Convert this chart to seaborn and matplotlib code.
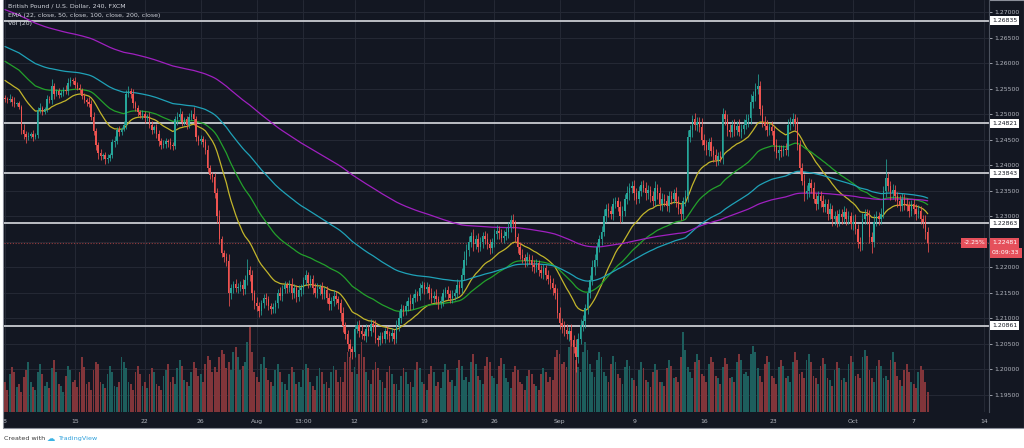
import numpy as np
import pandas as pd
import matplotlib
matplotlib.use("Agg")
import matplotlib.pyplot as plt
import seaborn as sns
from matplotlib.patches import Rectangle
from matplotlib.transforms import blended_transform_factory

# ---------------- data (prices in pips above 1.2000) ----------------
first_open_pips = 532
close_pips = [
    530, 528, 531, 524, 520, 522, 515, 470, 462, 455,
    458, 462, 455, 460, 508, 512, 505, 510, 530, 528,
    555, 540, 545, 538, 542, 548, 545, 562, 568, 565,
    558, 552, 548, 535, 528, 525, 520, 495, 468, 440,
    425, 418, 420, 412, 415, 420, 445, 448, 470, 465,
    472, 480, 540, 545, 540, 522, 512, 505, 498, 500,
    492, 495, 480, 470, 475, 462, 448, 440, 442, 448,
    445, 440, 438, 490, 495, 500, 485, 490, 480, 495,
    500, 490, 455, 448, 452, 445, 430, 395, 382, 378,
    345, 300, 255, 228, 220, 212, 150, 160, 168, 160,
    162, 165, 158, 175, 195, 185, 150, 130, 125, 115,
    130, 140, 138, 125, 118, 122, 130, 150, 145, 158,
    165, 160, 168, 150, 160, 142, 155, 160, 175, 185,
    170, 178, 160, 150, 158, 162, 148, 155, 140, 128,
    135, 145, 138, 130, 110, 85, 70, 50, 40, 35,
    80, 88, 75, 70, 65, 80, 75, 90, 85, 62,
    58, 65, 60, 75, 70, 65, 72, 60, 85, 100,
    118, 115, 125, 135, 128, 140, 148, 145, 160, 165,
    158, 162, 150, 140, 145, 138, 130, 135, 150, 155,
    148, 140, 145, 150, 165, 160, 185, 215, 235, 250,
    262, 245, 255, 240, 250, 262, 255, 245, 238, 250,
    265, 272, 268, 258, 262, 270, 280, 292, 285, 260,
    240, 225, 218, 212, 220, 215, 205, 200, 208, 195,
    190, 198, 185, 178, 170, 160, 150, 110, 92, 85,
    78, 70, 75, 58, 45, 25, 60, 88, 95, 120,
    150, 175, 200, 215, 240, 255, 270, 300, 315, 310,
    305, 325, 330, 318, 300, 310, 335, 345, 355, 360,
    345, 335, 350, 362, 355, 345, 352, 340, 330, 355,
    345, 325, 335, 330, 320, 340, 335, 345, 330, 315,
    305, 330, 340, 455, 470, 490, 480, 485, 475, 450,
    440, 430, 445, 428, 420, 410, 418, 415, 500, 490,
    470, 465, 480, 470, 478, 465, 472, 480, 488, 492,
    525, 535, 550, 555, 510, 485, 478, 470, 475, 468,
    440, 425, 430, 428, 432, 430, 480, 485, 490, 482,
    440, 395, 370, 345, 350, 365, 355, 335, 325, 340,
    330, 318, 325, 305, 315, 295, 300, 290, 305, 298,
    308, 295, 300, 285, 290, 275, 250, 245, 295, 305,
    300, 260, 250, 290, 300, 295, 305, 350, 375, 360,
    345, 352, 340, 330, 320, 335, 325, 320, 310, 325,
    315, 305, 310, 295, 290, 270, 248,
]
upper_wick_pips = [
    6, 4, 8, 5, 10, 3, 5, 4, 12, 6,
    8, 4, 7, 3, 6, 10, 5, 4, 8, 5,
    15, 6, 4, 7, 5, 6, 9, 10, 6, 4,
    8, 5, 7, 4, 6, 5, 9, 8, 10, 6,
    5, 7, 4, 6, 8, 5, 6, 9, 5, 7,
    4, 6, 8, 10, 6, 9, 5, 7, 4, 8,
    6, 5, 10, 7, 4, 6, 8, 5, 7, 6,
    4, 9, 5, 6, 10, 12, 7, 5, 6, 8,
    9, 14, 6, 5, 8, 6, 7, 9, 5, 6,
    8, 10, 12, 7, 6, 9, 14, 8, 6, 10,
    7, 9, 12, 10, 22, 8, 9, 6, 12, 7,
    6, 8, 10, 7, 5, 9, 6, 8, 11, 7,
    9, 6, 8, 12, 7, 6, 10, 8, 7, 9,
    6, 8, 7, 9, 12, 6, 10, 7, 8, 9,
    7, 10, 8, 6, 9, 12, 8, 7, 10, 6,
    8, 7, 9, 12, 6, 10, 8, 9, 7, 12,
    6, 9, 8, 7, 10, 6, 9, 8, 12, 14,
    10, 8, 9, 7, 12, 8, 10, 6, 9, 8,
    7, 9, 6, 10, 8, 12, 7, 9, 8, 6,
    9, 7, 10, 8, 12, 9, 14, 18, 10, 12,
    8, 14, 9, 12, 10, 7, 9, 12, 10, 8,
    10, 12, 9, 8, 11, 9, 10, 10, 12, 8,
    7, 9, 12, 8, 10, 7, 9, 10, 8, 6,
    9, 8, 7, 10, 8, 9, 7, 10, 12, 8,
    10, 12, 9, 14, 10, 15, 12, 10, 12, 9,
    12, 10, 14, 12, 10, 9, 12, 14, 10, 12,
    10, 12, 9, 8, 12, 10, 9, 14, 10, 9,
    12, 10, 9, 8, 10, 12, 9, 8, 10, 14,
    9, 12, 10, 8, 12, 10, 9, 8, 12, 10,
    10, 9, 12, 14, 10, 8, 12, 10, 9, 18,
    12, 10, 9, 11, 10, 12, 8, 10, 12, 9,
    10, 12, 9, 10, 8, 12, 9, 10, 12, 8,
    14, 10, 12, 25, 10, 9, 12, 10, 8, 12,
    10, 12, 9, 10, 8, 12, 10, 9, 12, 10,
    12, 9, 10, 14, 12, 10, 8, 12, 10, 9,
    10, 12, 9, 10, 12, 8, 10, 12, 9, 10,
    12, 9, 10, 8, 12, 14, 10, 9, 12, 10,
    10, 12, 9, 14, 10, 8, 12, 10, 38, 10,
    9, 12, 10, 8, 12, 10, 9, 12, 10, 8,
    10, 9, 12, 10, 8, 12, 10,
]
lower_wick_pips = [
    5, 6, 4, 8, 6, 3, 4, 8, 10, 12,
    6, 5, 8, 4, 6, 5, 7, 4, 6, 5,
    8, 10, 5, 6, 4, 7, 5, 8, 6, 5,
    6, 4, 7, 5, 6, 8, 5, 7, 9, 10,
    12, 8, 6, 10, 7, 6, 5, 8, 6, 7,
    6, 5, 8, 6, 7, 9, 6, 8, 5, 7,
    8, 6, 7, 9, 6, 8, 10, 7, 6, 8,
    9, 7, 8, 6, 10, 7, 8, 6, 9, 7,
    6, 8, 7, 9, 6, 8, 7, 8, 9, 10,
    9, 12, 10, 8, 9, 10, 25, 12, 10, 9,
    10, 8, 12, 10, 9, 11, 14, 12, 10, 12,
    9, 10, 12, 9, 10, 8, 12, 10, 9, 10,
    8, 10, 9, 12, 10, 9, 8, 10, 12, 9,
    10, 9, 12, 8, 10, 12, 10, 9, 10, 12,
    12, 10, 9, 12, 14, 12, 10, 14, 15, 15,
    10, 9, 12, 10, 8, 12, 10, 9, 12, 10,
    12, 10, 9, 8, 10, 12, 9, 10, 8, 10,
    9, 10, 8, 10, 12, 9, 8, 10, 9, 10,
    10, 9, 12, 10, 8, 10, 12, 9, 10, 8,
    12, 10, 9, 8, 10, 12, 10, 9, 10, 12,
    10, 12, 9, 10, 8, 12, 10, 9, 12, 10,
    9, 10, 12, 8, 10, 9, 12, 10, 8, 10,
    12, 9, 10, 12, 10, 8, 12, 10, 9, 12,
    10, 12, 9, 10, 12, 14, 12, 10, 12, 14,
    12, 10, 14, 12, 12, 30, 12, 10, 12, 14,
    12, 10, 9, 14, 12, 10, 12, 9, 10, 12,
    10, 12, 9, 8, 12, 10, 9, 10, 12, 10,
    12, 10, 9, 10, 8, 12, 10, 12, 9, 10,
    10, 12, 14, 10, 9, 12, 10, 9, 12, 10,
    12, 10, 9, 12, 10, 14, 10, 12, 9, 10,
    10, 9, 12, 10, 14, 12, 10, 9, 12, 10,
    12, 10, 9, 12, 10, 8, 12, 10, 9, 12,
    10, 12, 9, 10, 12, 10, 9, 12, 10, 9,
    12, 10, 14, 12, 10, 9, 12, 10, 8, 12,
    10, 12, 9, 14, 10, 12, 10, 9, 12, 10,
    12, 10, 9, 12, 10, 14, 12, 10, 9, 12,
    10, 12, 9, 10, 12, 9, 12, 12, 10, 9,
    14, 12, 22, 10, 9, 12, 10, 9, 12, 10,
    12, 10, 9, 12, 10, 9, 12, 10, 12, 9,
    10, 12, 9, 10, 12, 14, 18,
]
volume = [
    30, 22, 38, 45, 40, 25, 28, 20, 35, 42, 50, 30, 25, 22, 40, 48, 38, 26, 30, 24, 44, 52, 40, 28, 26, 20, 36, 46, 42, 30,
    32, 25, 40, 55, 45, 28, 30, 22, 42, 50, 48, 30, 28, 24, 38, 46, 40, 26, 25, 30, 55, 50, 44, 30, 28, 22, 40, 46, 38, 26,
    30, 24, 38, 44, 40, 28, 26, 22, 36, 42, 48, 30, 35, 28, 44, 52, 46, 32, 30, 26, 40, 50, 44, 36, 38, 30, 48, 56, 52, 40,
    45, 40, 55, 62, 58, 44, 50, 42, 60, 65, 55, 42, 46, 50, 70, 85, 60, 40, 35, 30, 48, 55, 44, 32, 30, 26, 42, 48, 40, 30,
    28, 22, 38, 45, 40, 28, 30, 25, 42, 48, 44, 30, 26, 22, 36, 44, 40, 28, 30, 24, 40, 46, 42, 30, 35, 30, 50, 60, 55, 40,
    45, 38, 58, 70, 55, 40, 32, 28, 42, 50, 44, 32, 30, 24, 40, 46, 38, 28, 28, 22, 36, 44, 40, 28, 30, 25, 42, 50, 44, 30,
    28, 22, 38, 46, 40, 26, 30, 24, 40, 48, 42, 30, 32, 26, 44, 52, 46, 32, 35, 30, 50, 58, 48, 36, 32, 28, 46, 55, 50, 36,
    34, 28, 46, 54, 48, 34, 30, 24, 40, 46, 42, 30, 28, 22, 36, 42, 38, 28, 26, 22, 38, 44, 40, 30, 35, 32, 55, 62, 58, 48,
    50, 45, 65, 75, 68, 52, 45, 40, 60, 70, 62, 48, 40, 35, 52, 60, 55, 40, 36, 30, 48, 56, 50, 38, 34, 28, 45, 52, 46, 34,
    32, 26, 42, 50, 44, 32, 30, 25, 40, 48, 42, 30, 30, 26, 44, 52, 46, 34, 35, 30, 55, 80, 62, 45, 40, 34, 50, 58, 52, 38,
    36, 30, 48, 55, 50, 36, 34, 28, 45, 54, 48, 34, 35, 30, 50, 58, 52, 38, 40, 36, 58, 66, 60, 44, 36, 30, 48, 56, 50, 36,
    34, 28, 45, 52, 46, 34, 36, 30, 50, 60, 52, 38, 40, 34, 52, 58, 50, 36, 34, 28, 46, 54, 48, 34, 32, 26, 42, 50, 44, 32,
    34, 30, 48, 56, 50, 36, 38, 34, 55, 62, 56, 42, 34, 30, 46, 52, 46, 34, 36, 32, 52, 60, 50, 36, 32, 26, 42, 48, 40, 30,
    28, 24, 40, 46, 42, 30, 20,
]
ema_periods = [22, 50, 100, 200]
ema_seeds = [1.2570, 1.2607, 1.2635, 1.2707]
ema_colors = ["#c2b52b", "#23a12b", "#1fa2b8", "#a020c0"]
level_prices = [1.26835, 1.24821, 1.23843, 1.22863, 1.20861]
price_ticks = [1.195, 1.200, 1.205, 1.210, 1.215, 1.220, 1.225, 1.230, 1.235,
               1.240, 1.245, 1.250, 1.255, 1.260, 1.265, 1.270]
date_tick_bars = [0, 30, 60, 84, 108, 128, 150, 180, 210, 238, 270, 300, 330, 364, 390, 420]
date_tick_labels = ["8", "15", "22", "26", "Aug", "13:00", "12", "19", "26",
                    "Sep", "9", "16", "23", "Oct", "7", "14"]
last_price = 1.22481
change_text = "-2.25%"
countdown_text = "03:09:33"
title_lines = ["British Pound / U.S. Dollar, 240, FXCM",
               "EMA (22, close, 50, close, 100, close, 200, close)",
               "Vol (20)"]

# ---------------- derived ----------------
closes = 1.2 + np.array(close_pips) / 10000.0
opens = 1.2 + np.array([first_open_pips] + close_pips[:-1]) / 10000.0
highs = np.maximum(opens, closes) + np.array(upper_wick_pips) / 10000.0
lows = np.minimum(opens, closes) - np.array(lower_wick_pips) / 10000.0
idx = np.arange(len(closes))
up = closes >= opens

df = pd.DataFrame({"bar": idx, "close": closes})
for p, seed in zip(ema_periods, ema_seeds):
    s = pd.concat([pd.Series([seed]), df["close"]], ignore_index=True)
    df[f"ema{p}"] = s.ewm(span=p, adjust=False).mean().iloc[1:].values

# ---------------- style ----------------
sns.set_theme(style="dark")
plt.rcParams["font.family"] = ["DejaVu Sans"]
BG = "#131722"
GRID = "#242834"
TXT = "#b2b5be"
UP = "#26a69a"
DOWN = "#ef5350"
VOL_UP = "#1d5e5d"
VOL_DOWN = "#81353a"

W, H = 1024, 448
fig = plt.figure(figsize=(W / 100, H / 100), dpi=100, facecolor="white")
fig.patches.append(Rectangle((3 / W, 20 / H), 1 - 3 / W, 1 - 20 / H, transform=fig.transFigure,
                             facecolor=BG, edgecolor="#8a8e99", linewidth=0.8, zorder=-5))

rect = [4 / W, 36 / H, 985 / W, 412 / H]
XLIM = (-0.43, 422.3)
YLIM = (1.19167, 1.27241)

ax_vol = fig.add_axes(rect)
ax_vol.set_facecolor(BG)
ax = fig.add_axes(rect)
ax.set_facecolor("none")
for a in (ax_vol, ax):
    a.set_xlim(*XLIM)
    for s in a.spines.values():
        s.set_visible(False)
ax.set_ylim(*YLIM)
ax_vol.set_ylim(0, 412)
ax_vol.set_xticks([]); ax_vol.set_yticks([])

# grid (drawn in the bottom axes, placed with the price axes' data coordinates)
tr_h = blended_transform_factory(ax_vol.transAxes, ax.transData)
for p in price_ticks:
    ax_vol.plot([0, 1], [p, p], transform=tr_h, color=GRID, lw=0.8, zorder=0)
for b in date_tick_bars:
    ax_vol.axvline(b, color=GRID, lw=0.8, zorder=0)

# volume
ax_vol.bar(idx, volume, width=0.8, color=np.where(up, VOL_UP, VOL_DOWN), linewidth=0, zorder=1)

# horizontal levels
for lv in level_prices:
    ax.axhline(lv, color="#c9cbd1", lw=1.3, zorder=2)
ax.axhline(last_price, color=DOWN, lw=0.8, ls=(0, (1, 1.5)), alpha=0.6, zorder=2)

# EMAs
for p, c in zip(ema_periods, ema_colors):
    sns.lineplot(data=df, x="bar", y=f"ema{p}", ax=ax, color=c, linewidth=0.9,
                 estimator=None, legend=False, zorder=3)

# candles
ccol = np.where(up, UP, DOWN)
ax.vlines(idx, lows, highs, colors=ccol, lw=0.55, zorder=4)
body_h = np.maximum(np.abs(closes - opens), 0.00004)
ax.bar(idx, body_h, bottom=np.minimum(opens, closes), width=0.62, color=ccol, linewidth=0, zorder=5)

ax.set_xlim(*XLIM)
ax.set_ylim(*YLIM)
ax.set_xlabel(""); ax.set_ylabel("")
ax.set_xticks([])
ax.yaxis.tick_right()
ax.set_yticks(price_ticks)
# the tick label hidden behind the current-price tag is left blank
tick_texts = []
for p in price_ticks:
    tick_texts.append("" if abs(p - last_price) < 0.0015 else f"{p:.5f}")
ax.set_yticklabels(tick_texts)
ax.tick_params(axis="y", length=2.5, width=0.6, color=TXT, labelcolor=TXT,
               labelsize=4.4, pad=1.5, right=True, left=False)
ax.spines["right"].set_visible(True)
ax.spines["right"].set_color("#4c525e")
ax.spines["right"].set_linewidth(0.8)

# date labels
tx = ax.get_xaxis_transform()
for b, lab in zip(date_tick_bars, date_tick_labels):
    ax.text(b, -9 / 412, lab, transform=tx, ha="center", va="center",
            fontsize=4.4, color=TXT, clip_on=False)

# level labels on price scale
ty = blended_transform_factory(ax.transAxes, ax.transData)
for lv in level_prices:
    ax.text(1 + 3 / 985, lv, f"{lv:.5f}", transform=ty, ha="left", va="center",
            fontsize=4.4, color=BG, zorder=10, clip_on=False,
            bbox=dict(boxstyle="square,pad=0.35", fc="white", ec="none"))
ax.text(1 + 3 / 985, last_price, f"{last_price:.5f}", transform=ty, ha="left", va="center",
        fontsize=4.4, color="white", zorder=10, clip_on=False,
        bbox=dict(boxstyle="square,pad=0.35", fc="#e5505b", ec="none"))
ax.text(1 + 3 / 985, last_price - 0.00196, countdown_text, transform=ty, ha="left", va="center",
        fontsize=4.4, color="white", zorder=10, clip_on=False,
        bbox=dict(boxstyle="square,pad=0.35", fc="#e5505b", ec="none"))
ax.text(1 - 4 / 985, last_price, change_text, transform=ty, ha="right", va="center",
        fontsize=4.4, color="white", zorder=10, clip_on=False,
        bbox=dict(boxstyle="square,pad=0.35", fc="#e5505b", ec="none"))

# titles
for k, t in enumerate(title_lines):
    fig.text(8 / W, 1 - (6 + 9 * k) / H, t, ha="left", va="center", fontsize=4.5, color="#d1d4dc")

# footer
fig.text(4 / W, 10 / H, "Created with", ha="left", va="center", fontsize=4.6, color="#3a3a3a")
fig.text(47 / W, 10 / H, "\u2601", ha="left", va="center", fontsize=6, color="#3bb3e4")
fig.text(58 / W, 10 / H, "TradingView", ha="left", va="center", fontsize=4.6, color="#2c9fdb")

fig.savefig("out.png", dpi=100, facecolor="white")
